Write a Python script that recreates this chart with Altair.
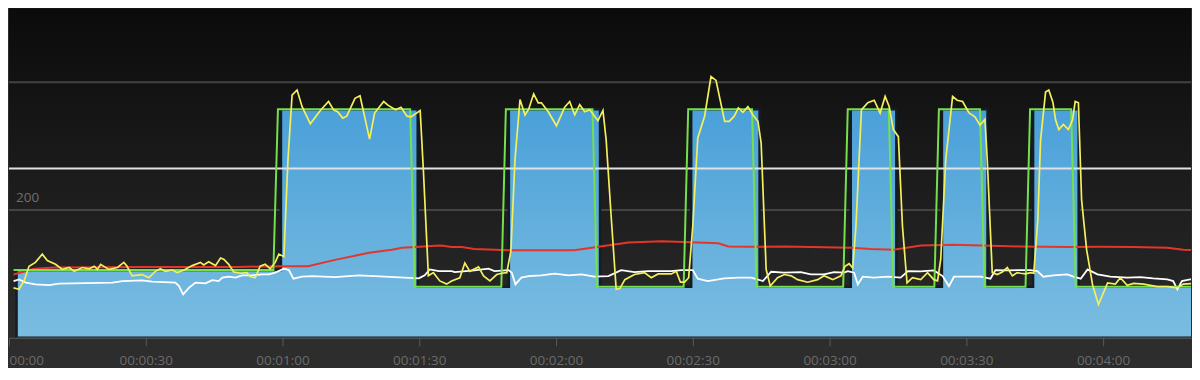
import altair as alt
import pandas as pd

# ---- target workout (interval start second, target watts) ----
seg_start = [1, 59, 89, 109, 129, 149, 164, 184, 194, 204, 214, 224, 234]
seg_level = [106, 358, 80, 358, 80, 358, 80, 358, 80, 358, 80, 358, 80]
end_time = 261
ftp = 265
grid_values = [200, 400]
label_value = [200]

# ---- actual power (yellow) ----
power_t = [1, 2.2, 3.3, 4.4, 5.8, 7.3, 8.4, 10.2, 11.7, 13.2, 14.3, 16.1, 17.6, 18.7, 19.4, 20.1, 21.9, 23.8,
           25.2, 25.9, 27.0, 29.2, 30.7, 32.1, 33.2, 34.3, 35.8, 36.9, 38.4, 40.2, 42.0, 42.7, 43.8, 45.3, 46.4,
           47.1, 48.2, 49.3, 50.8, 52.2, 52.9, 54.0, 55.1, 56.2, 57.3, 58.4, 59.2, 60.3, 61.2, 62.1, 63.2, 64.3,
           66.1, 68.3, 70.1, 71.2, 72.1, 73.2, 74.1, 75.9, 77.0, 79.1, 80.2, 82.2, 83.2, 84.8, 86.0, 87.3, 88.2,
           90.2, 90.9, 92.0, 93.1, 94.5, 96.0, 97.1, 98.9, 100.0, 101.1, 103.0, 104.1, 105.5, 107.0, 108.1, 109.2,
           110.1, 111.0, 112.1, 113.2, 114.0, 115.1, 116.1, 116.8, 118.3, 120.1, 121.9, 123.0, 124.1, 125.2, 126.3,
           127.4, 129.2, 130.3, 131.0, 132.1, 133.2, 134.0, 135.1, 137.2, 139.4, 140.9, 142.4, 145.3, 146.4, 147.3,
           148.2, 149.1, 150.0, 151.1, 152.6, 154.0, 155.1, 157.0, 158.0, 159.1, 160.0, 161.0, 162.1, 163.2, 164.3,
           165.0, 166.1, 167.0, 168.6, 170.1, 171.6, 173.0, 175.2, 177.4, 178.8, 180.7, 182.5, 183.4, 184.3, 185.1,
           185.8, 187.0, 188.4, 189.8, 191.1, 192.2, 193.1, 194.0, 195.1, 196.0, 197.0, 198.2, 200.0, 201.5, 202.9,
           203.7, 204.4, 205.5, 207.0, 208.0, 209.2, 210.6, 211.9, 213.0, 214.1, 214.6, 215.7, 216.8, 217.9, 219.0,
           220.1, 221.2, 221.9, 223.0, 224.1, 224.8, 225.7, 226.3, 227.4, 228.1, 229.0, 229.6, 230.3, 231.3, 232.4,
           233.3, 233.9, 234.6, 235.3, 236.4, 237.7, 239.0, 241.0, 242.7, 243.8, 245.3, 246.7, 248.9, 251.9, 254.1,
           256.3, 257.6, 259.8, 261.3]
power_w = [78, 76, 89, 112, 118, 131, 121, 115, 107, 110, 104, 110, 108, 112, 107, 115, 107, 110,
           118, 112, 97, 99, 94, 104, 108, 104, 106, 102, 106, 113, 118, 114, 119, 113, 125,
           123, 115, 103, 101, 102, 96, 94, 112, 115, 108, 118, 131, 127, 279, 380, 388, 362,
           335, 356, 370, 357, 354, 344, 347, 375, 379, 311, 352, 370, 364, 357, 361, 347, 346,
           356, 263, 97, 102, 89, 84, 89, 94, 117, 104, 111, 97, 89, 99, 101, 102,
           136, 279, 373, 349, 358, 382, 368, 368, 354, 332, 361, 370, 349, 365, 354,
           357, 340, 356, 310, 190, 76, 77, 91, 99, 102, 94, 100, 100, 104, 87,
           87, 94, 175, 313, 347, 409, 403, 339, 339, 347, 360, 353, 362, 349, 339,
           305, 107, 81, 94, 99, 97, 91, 87, 91, 97, 91, 97, 112, 116, 109,
           175, 357, 368, 372, 352, 378, 362, 326, 315, 175, 86, 94, 91, 102, 91,
           89, 123, 279, 378, 372, 370, 352, 346, 333, 342, 279, 102, 99, 103, 110,
           97, 102, 101, 100, 102, 101, 185, 310, 385, 388, 369, 341, 326, 334, 326,
           341, 370, 368, 216, 138, 83, 52, 86, 84, 94, 82, 85, 84, 80, 80,
           78, 84, 85, 84]

# ---- white series ----
white_t = [1, 2.2, 3.7, 5.8, 8.8, 11.0, 16.8, 22.7, 24.9, 29.2, 31.4, 36.5, 37.3, 38.2, 39.5, 40.9, 43.1, 44.6,
           46.0, 46.8, 48.2, 49.7, 51.1, 53.3, 55.5, 57.0, 58.4, 60.3, 61.4, 62.4, 64.3, 66.5, 71.5, 76.7, 82.4,
           89.9, 91.2, 92.3, 94.3, 97.1, 97.8, 102.1, 105.2, 106.5, 109.6, 110.3, 111.1, 112.4, 114.0, 116.8,
           119.7, 122.7, 125.6, 128.4, 131.5, 134.3, 137.2, 140.2, 143.1, 145.3, 147.5, 150.0, 151.1, 153.3,
           156.9, 160.0, 162.8, 165.4, 167.2, 170.0, 173.7, 175.9, 178.8, 181.0, 183.2, 184.0, 185.4, 186.2,
           187.3, 189.7, 192.8, 195.6, 197.2, 200.0, 202.9, 204.8, 206.2, 207.3, 210.3, 213.2, 215.3, 216.4,
           219.1, 221.9, 224.1, 225.6, 226.9, 229.1, 232.2, 233.5, 235.1, 236.6, 238.8, 241.6, 245.3, 248.2,
           251.0, 254.1, 255.4, 256.3, 257.3, 259.1, 261.3]
white_v = [88.8, 91.4, 86.3, 83.6, 82.5, 84.7, 85.6, 86.3, 88.8, 89.8, 87.8, 86.3, 80.9, 68.0, 78.4, 86.3, 85.2, 90.3,
           88.8, 94.1, 95.6, 94.1, 97.7, 97.7, 99.2, 99.2, 101.9, 108.1, 105.9, 92.5, 95.6, 96.6, 95.0, 97.7, 95.6,
           93.0, 97.7, 107.0, 104.4, 104.4, 102.8, 105.5, 108.1, 104.4, 105.9, 101.9, 83.6, 94.1, 96.6, 97.7,
           100.3, 97.7, 99.2, 95.6, 96.6, 105.9, 102.8, 104.4, 104.4, 104.4, 105.9, 105.9, 92.5, 88.8,
           93.0, 94.1, 94.1, 88.8, 103.4, 101.9, 102.8, 99.2, 99.2, 102.8, 101.9, 104.4, 101.9, 83.6,
           95.6, 94.1, 95.6, 94.1, 104.4, 103.9, 105.5, 96.6, 80.9, 95.6, 95.6, 95.6, 92.5, 105.9,
           105.5, 105.9, 105.9, 104.4, 95.6, 97.7, 99.2, 95.6, 92.5, 107.0, 99.2, 95.6, 94.1, 95.0,
           93.0, 91.4, 88.8, 75.8, 88.8, 91.4, 90.3]

# ---- red series ----
red_t = [1, 5.5, 10, 30, 50, 60, 65.6, 71.5, 79, 84, 86.2, 91, 93.4, 94.9, 97, 99.3, 102.1, 109.6, 116.8, 124,
         129.3, 135.9, 143.1, 148.1, 155.6, 157.8, 162.8, 170, 184.7, 189.1, 194.1, 200, 207.3, 221.9, 232.2,
         239.4, 246.7, 254.1, 257.6, 261.3]
red_v = [99, 108, 110, 111, 111, 112, 112, 122, 133, 138, 141, 143, 144, 144.5, 142, 142, 139, 137, 137, 137,
         142.5, 149, 151, 150, 148, 143, 142.5, 143, 141, 139, 138, 144.5, 145.6, 143, 142, 142.5, 142, 141, 138, 137]

tick_values = [0, 30, 60, 90, 120, 150, 180, 210, 240]
tick_labels = ["00:00", "00:00:30", "00:01:00", "00:01:30", "00:02:00",
               "00:02:30", "00:03:00", "00:03:30", "00:04:00"]

# ---- build tables ----
bounds = seg_start[1:] + [end_time + 1]
g_t, g_v = [], []
for s, e, lv in zip(seg_start, bounds, seg_level):
    g_t += [s, e - 1]
    g_v += [lv, lv]
green_df = pd.DataFrame({"t": g_t, "v": g_v})
blue_df = pd.DataFrame({"t": seg_start + [end_time], "v": seg_level + [seg_level[-1]]})
power_df = pd.DataFrame({"t": power_t, "v": power_w})
white_df = pd.DataFrame({"t": white_t, "v": white_v})
red_df = pd.DataFrame({"t": red_t, "v": red_v})
grid_df = pd.DataFrame({"v": grid_values})
ftp_df = pd.DataFrame({"v": [ftp]})
lab_df = pd.DataFrame({"v": label_value, "label": [str(x) for x in label_value]})
bg_df = pd.DataFrame({"a": [0]})

label_expr = " : ".join(f"datum.value == {v} ? '{l}'" for v, l in zip(tick_values, tick_labels)) + " : ''"

xs = alt.Scale(domain=[0, 259.3], nice=False, zero=False)
ys = alt.Scale(domain=[0, 516], nice=False)
x_axis = alt.Axis(values=tick_values, labelExpr=label_expr, title=None, grid=False,
                  domainColor="#5a5a5a", domainWidth=1, tickColor="#5a5a5a", tickSize=8, tickWidth=1,
                  labelColor="#6b6b6b", labelFont="Open Sans", labelFontSize=13.5, labelPadding=8,
                  labelFlush=True, zindex=1)
X = alt.X("t:Q", scale=xs, axis=x_axis)
Y = alt.Y("v:Q", scale=ys, axis=None)

bg = alt.Chart(bg_df).mark_rect(
    fill=alt.Gradient(gradient="linear", x1=0, x2=0, y1=0, y2=1,
                      stops=[alt.GradientStop(color="#0b0b0b", offset=0),
                             alt.GradientStop(color="#2b2b2b", offset=1)])
).encode(x=alt.value(0), x2=alt.value("width"), y=alt.value(0), y2=alt.value("height"))

grid = alt.Chart(grid_df).mark_rule(color="#434343", strokeWidth=2).encode(y=Y)

blue = alt.Chart(blue_df).mark_area(
    interpolate="step-after", xOffset=3, clip=True,
    fill=alt.Gradient(gradient="linear", x1=0, x2=0, y1=0, y2=1,
                      stops=[alt.GradientStop(color="#4aa0d9", offset=0),
                             alt.GradientStop(color="#7bbde1", offset=1)]),
    stroke="#151c22", strokeWidth=2.5
).encode(x=X, y=Y)

ftp_rule = alt.Chart(ftp_df).mark_rule(color="#e2e2e2", strokeWidth=2).encode(y=Y)

label = alt.Chart(lab_df).mark_text(align="left", baseline="middle", dy=-12, color="#6e6e6e",
                                    font="Open Sans", fontSize=13.5).encode(
    x=alt.value(7), y=Y, text="label:N")

red = alt.Chart(red_df).mark_line(color="#e3362b", strokeWidth=2, clip=True).encode(x=X, y=Y)
white = alt.Chart(white_df).mark_line(color="#ffffff", strokeWidth=1.8, clip=True).encode(x=X, y=Y)
green = alt.Chart(green_df).mark_line(color="#74e04c", strokeWidth=2, clip=True).encode(x=X, y=Y)
yellow = alt.Chart(power_df).mark_line(color="#f4ef5c", strokeWidth=1.7, clip=True).encode(x=X, y=Y)

chart = alt.layer(bg, grid, blue, ftp_rule, label, red, white, green, yellow).properties(
    width=1184, height=330, padding=0
).configure(background="#2d2d2d").configure_view(stroke=None)

chart.save("out.html", embed_options={"renderer": "svg", "actions": False})
